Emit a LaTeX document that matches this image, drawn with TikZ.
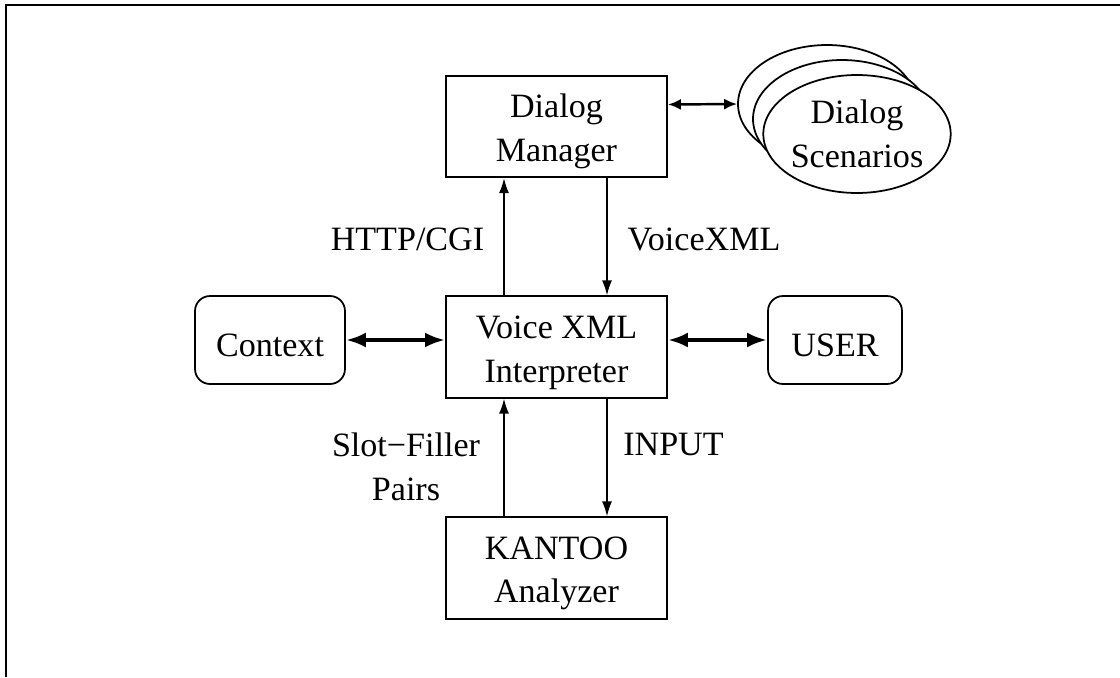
\documentclass[tikz,border=0pt]{standalone}
\usepackage{fontspec}
\setmainfont{Liberation Serif}
\usetikzlibrary{shapes.geometric,arrows.meta,calc}
\newcommand{\upstrut}{\rule{0pt}{19pt}}
\begin{document}
\begin{tikzpicture}[x=0.02cm,y=-0.02cm,
  txt/.style={font=\fontsize{19.4}{25}\selectfont, align=center},
  box/.style={draw, line width=1pt, txt, inner sep=0pt, minimum width=4.42cm, minimum height=2.03cm},
  rbox/.style={draw, line width=1pt, txt, rounded corners=0.3cm, inner sep=0pt, minimum height=1.76cm},
  scen/.style={draw, fill=white, ellipse, line width=1pt, txt, inner sep=0pt, minimum width=3.56cm, minimum height=2.36cm},
  arr/.style={line width=0.9pt, -{Latex[length=3mm,width=2mm]}},
  darr/.style={line width=2.6pt, {Latex[length=4mm,width=3mm]}-{Latex[length=4mm,width=3mm]}},
  sarr/.style={line width=1.4pt, {Latex[length=2.6mm,width=2.2mm]}-{Latex[length=2.6mm,width=2.2mm]}},
  lab/.style={txt, inner sep=0pt}]
\useasboundingbox (0,0) rectangle (1120,677);
% frame
\draw[line width=1.4pt] (6,677) -- (6,5) -- (1120,5);
% nodes
\node[box] (dm) at (556.5,126.5) {\upstrut Dialog\\Manager};
\node[box] (vxi) at (556.5,347) {\upstrut Voice XML\\Interpreter};
\node[box] (kan) at (556.5,568) {\upstrut KANTOO\\Analyzer};
\node[rbox, minimum width=3cm] (ctx) at (270,340) {\upstrut Context};
\node[rbox, minimum width=2.68cm] (user) at (835,340) {\upstrut USER};
\node[scen] (sc1) at (827,104) {};
\node[scen] (sc2) at (842,119) {};
\node[scen] (sc3) at (857,134) {Dialog\\Scenarios};
% connectors
\draw[arr] ($(vxi.north)+(-52.5,0)$) -- ($(dm.south)+(-52.5,0)$);
\draw[arr] ($(dm.south)+(50.5,0)$) -- ($(vxi.north)+(50.5,0)$);
\draw[arr] ($(kan.north)+(-52.5,0)$) -- ($(vxi.south)+(-52.5,0)$);
\draw[arr] ($(vxi.south)+(50.5,0)$) -- ($(kan.north)+(50.5,0)$);
\draw[darr] (ctx.east) -- ($(vxi.west)+(0,-7)$);
\draw[darr] ($(vxi.east)+(0,-7)$) -- (user.west);
\draw[sarr] ($(dm.east)+(0,-22)$) -- (sc1.west);
% labels
\node[lab, anchor=base] (l1) at (407.5,250) {HTTP/CGI};
\node[lab, anchor=base] (l2) at (704,250) {VoiceXML};
\node[lab, anchor=base] (l3) at (673.5,455) {INPUT};
\node[lab] (l4) at (406,467) {Slot−Filler\\Pairs};
\end{tikzpicture}
\end{document}
